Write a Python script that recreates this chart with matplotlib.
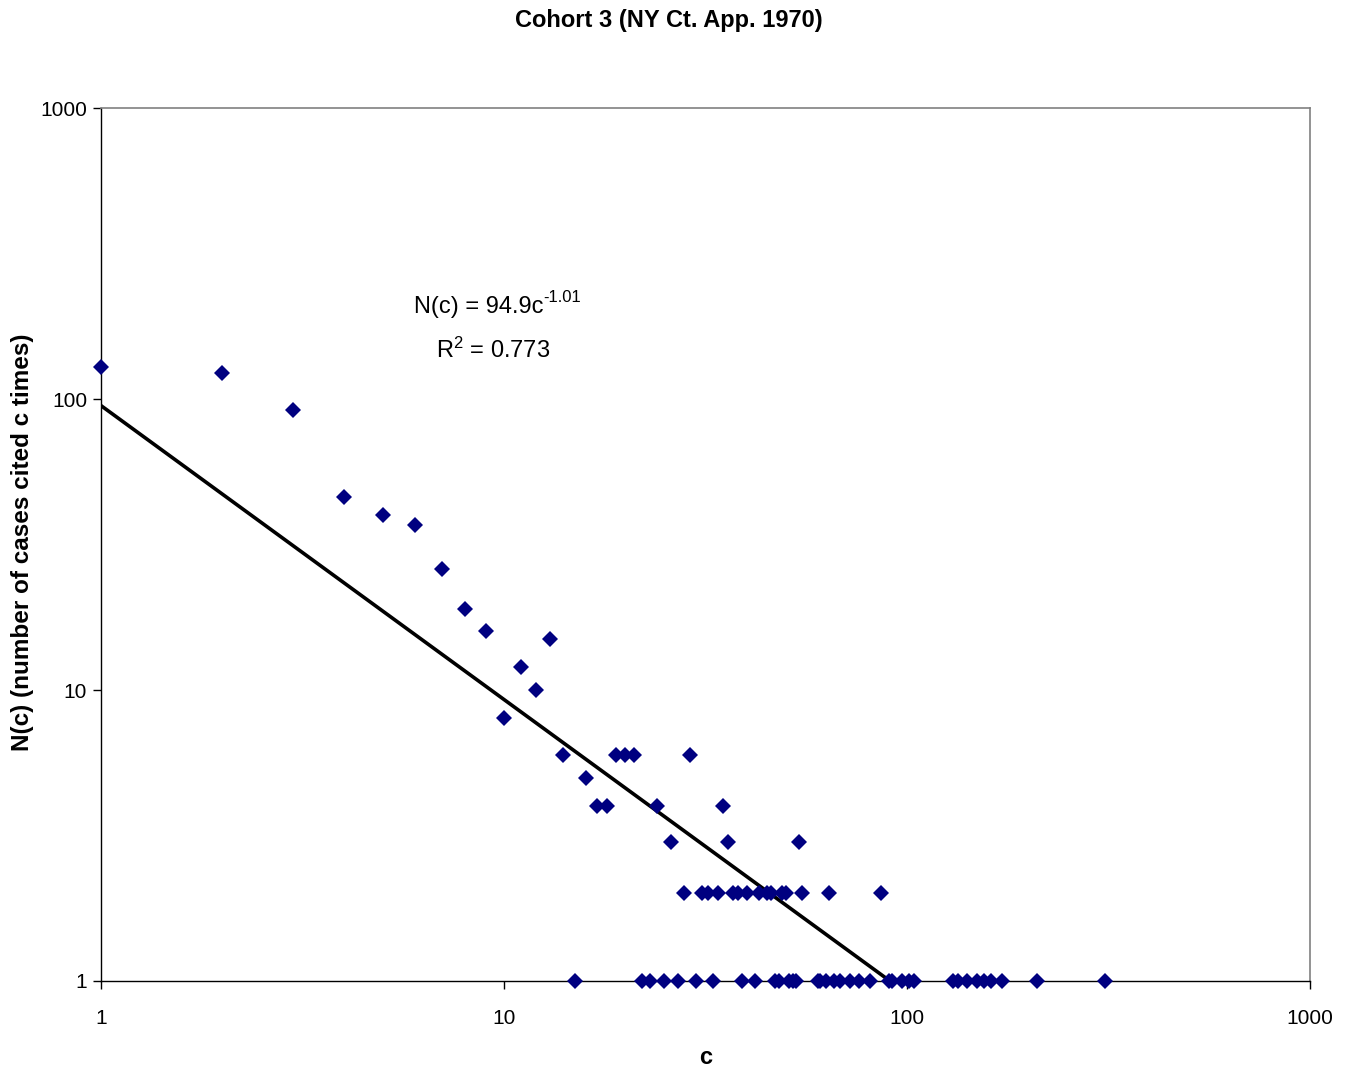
import numpy as np
import matplotlib
matplotlib.use('Agg')
import matplotlib.pyplot as plt

plt.rcParams['font.family'] = ['Liberation Sans', 'DejaVu Sans']
plt.rcParams['mathtext.default'] = 'regular'

# c values with N(c) > 1
c_multi = [1, 2, 3, 4, 5, 6, 7, 8, 9, 10, 11, 12, 13, 14, 16, 17, 18, 19, 20, 21,
           24, 26, 28, 29, 31, 32, 34, 35, 36, 37, 38, 40, 43, 45, 46, 49, 50,
           54, 55, 64, 86]
n_multi = [129, 123, 92, 46, 40, 37, 26, 19, 16, 8, 12, 10, 15, 6, 5, 4, 4, 6, 6, 6,
           4, 3, 2, 6, 2, 2, 2, 4, 3, 2, 2, 2, 2, 2, 2, 2, 2,
           3, 2, 2, 2]
# c values cited by exactly one case
c_single = [15, 22, 23, 25, 27, 30, 33, 39, 42, 47, 48, 51, 52, 53, 60, 61, 63,
            66, 68, 72, 76, 81, 90, 92, 97, 101, 104, 130, 134, 141, 149, 155,
            162, 172, 210, 310]
n_single = [1] * len(c_single)

# power-law fit N(c) = a * c^b
fit_a = 94.9
fit_b = -1.01

c_all = c_multi + c_single
n_all = n_multi + n_single

fig = plt.figure(figsize=(13.45, 10.78), dpi=100)
ax = fig.add_axes([101 / 1345, 97 / 1078, 1209 / 1345, 873 / 1078])

ax.set_xscale('log')
ax.set_yscale('log')
ax.set_xlim(1, 1000)
ax.set_ylim(1, 1000)

# trend line over the data range, clipped by the axes at N = 1
cc = np.logspace(0, np.log10(max(c_all)), 200)
ax.plot(cc, fit_a * cc ** fit_b, color='black', lw=2.6, zorder=2)

ax.plot(c_all, n_all, linestyle='none', marker='D', ms=8.5, color='#000080',
        markeredgewidth=0, zorder=3, clip_on=False)

ax.set_xticks([1, 10, 100, 1000])
ax.set_xticklabels(['1', '10', '100', '1000'])
ax.set_yticks([1, 10, 100, 1000])
ax.set_yticklabels(['1', '10', '100', '1000'])
ax.minorticks_off()
ax.tick_params(axis='x', direction='out', length=6, width=1, pad=14, labelsize=15)
ax.tick_params(axis='y', direction='out', length=6, width=1, pad=4, labelsize=15)

for side in ['top', 'right']:
    ax.spines[side].set_color('#808080')
    ax.spines[side].set_linewidth(1.2)
for side in ['left', 'bottom']:
    ax.spines[side].set_color('black')
    ax.spines[side].set_linewidth(1.0)

# fit equation: base text right-aligned, exponent (plain hyphen) to its right
ax.text(12.5, 207, 'N(c) = 94.9c', fontsize=17, ha='right', va='center')
ax.annotate('-1.01', xy=(12.5, 207), xytext=(0.5, 7), textcoords='offset points',
            fontsize=12, ha='left', va='center')
ax.text(9.4, 147, r'R$^{2}$ = 0.773', fontsize=17, ha='center', va='center')

fig.text(0.497, 0.981, 'Cohort 3 (NY Ct. App. 1970)', fontsize=17, fontweight='bold',
         ha='center', va='center')
fig.text(0.525, 0.0186, 'c', fontsize=17, fontweight='bold', ha='center', va='center')
fig.text(0.0165, 0.497, 'N(c) (number of cases cited c times)', fontsize=17.5,
         fontweight='bold', ha='center', va='center', rotation=90)

fig.savefig('out.png', dpi=100)
